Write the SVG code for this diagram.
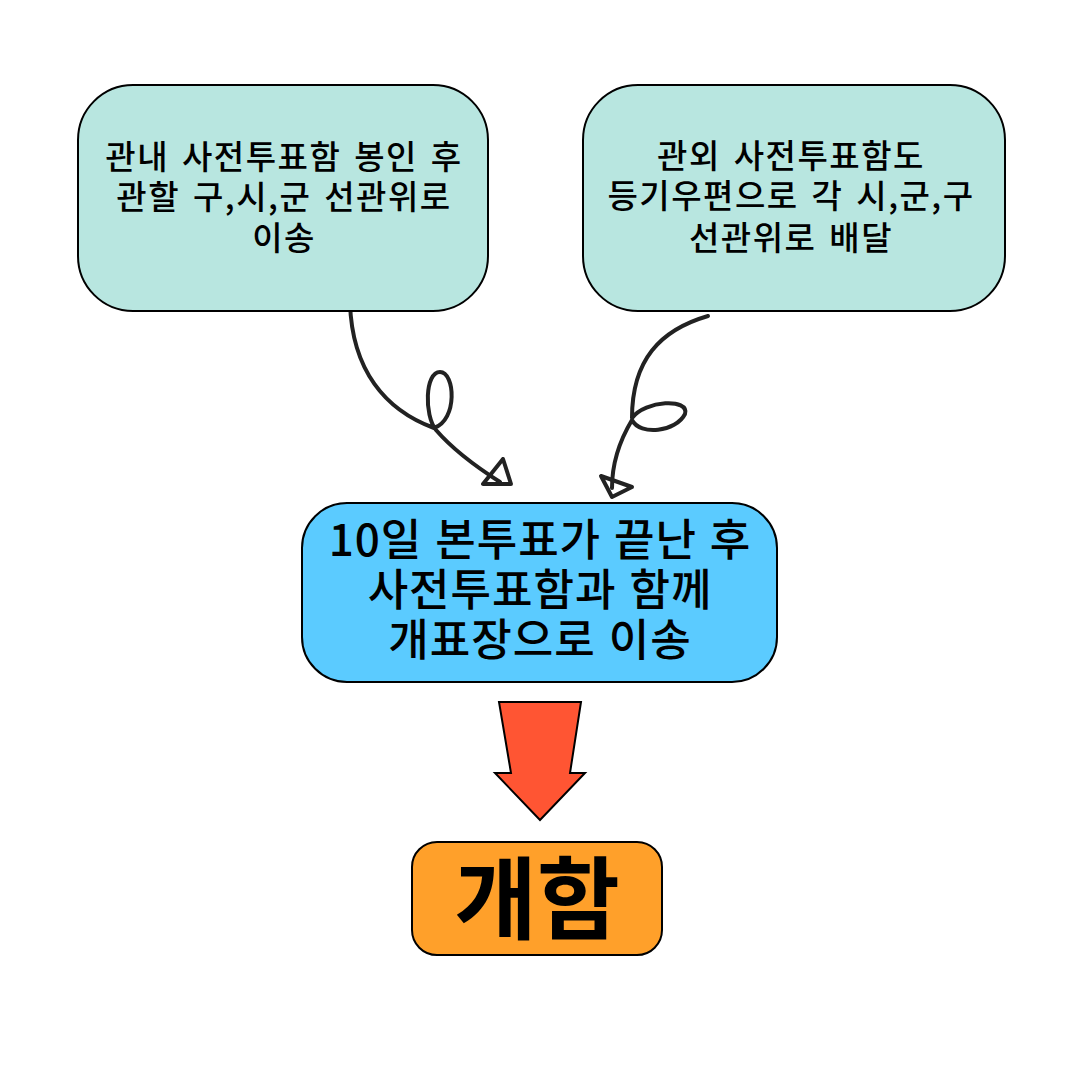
<svg xmlns="http://www.w3.org/2000/svg" width="1080" height="1080" viewBox="0 0 1080 1080">
<style>
.box{stroke:#000;stroke-width:2}
.t{font-family:"Noto Sans CJK KR","Noto Sans",sans-serif;fill:#000;text-anchor:middle}
.s{font-size:33px;font-weight:500;letter-spacing:1.5px;word-spacing:4px}
.m{font-size:44px;font-weight:500;letter-spacing:1px;word-spacing:2px}
.b{font-size:90px;font-weight:700}
.c{fill:none;stroke:#222;stroke-width:4;stroke-linecap:round;stroke-linejoin:round}
</style>
<rect width="1080" height="1080" fill="#fff"/>
<g id="connectors">
<path class="c" d="M350,303 C352,370 385,410 434,428 C458,420 455,372 440,372 C425,372 424,415 436,430 C455,452 478,468 500,482"/>
<path class="c" d="M483,484 L511,484 L503,459 Z"/>
<path class="c" d="M708,316 C660,330 632,360 632,418 C645,400 690,398 685,414 C676,432 640,436 632,420 C620,440 612,462 612,488"/>
<path class="c" d="M601,476 L632,487 L612,497 Z"/>
</g>
<g id="node-left">
<rect class="box" x="78" y="85" width="410" height="226" rx="55" fill="#b8e6e0"/>
<text class="t s" x="284" y="169">관내 사전투표함 봉인 후</text>
<text class="t s" x="284" y="209">관할 구,시,군 선관위로 </text>
<text class="t s" x="284" y="250">이송</text>
</g>
<g id="node-right">
<rect class="box" x="583" y="85" width="422" height="226" rx="55" fill="#b8e6e0"/>
<text class="t s" x="791" y="168">관외 사전투표함도</text>
<text class="t s" x="791" y="208">등기우편으로 각 시,군,구</text>
<text class="t s" x="791" y="250">선관위로 배달</text>
</g>
<g id="node-middle">
<rect class="box" x="302" y="503" width="475" height="179" rx="45" fill="#5bcbff"/>
<text class="t m" x="540" y="556">10일 본투표가 끝난 후</text>
<text class="t m" x="540" y="606">사전투표함과 함께</text>
<text class="t m" x="540" y="656">개표장으로 이송</text>
</g>
<g id="arrow">
<polygon points="499,702 581,702 570,773 585,773 540,820 495,773 511,773" fill="#ff5533" stroke="#000" stroke-width="2"/>
</g>
<g id="node-bottom">
<rect class="box" x="412" y="842" width="250" height="113" rx="25" fill="#ffa02a"/>
<text class="t b" x="537" y="932">개함</text>
</g>
</svg>
